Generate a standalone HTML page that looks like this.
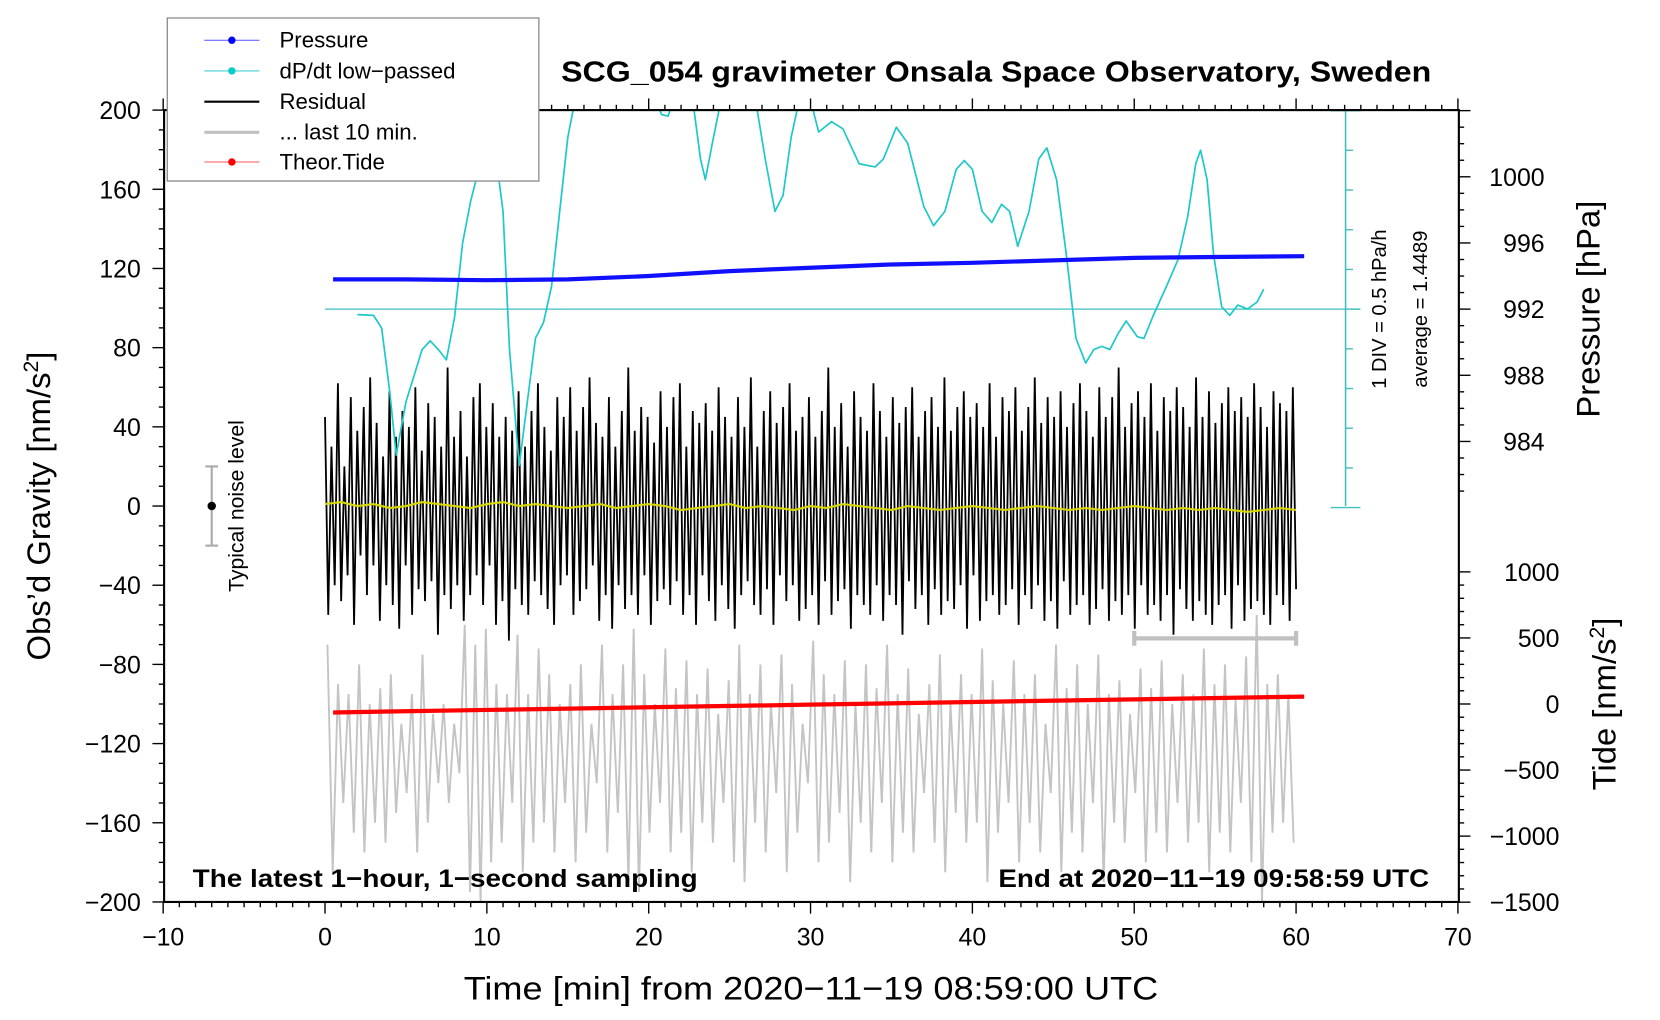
<!DOCTYPE html>
<html><head><meta charset="utf-8"><style>
html,body{margin:0;padding:0;background:#fff;}
svg{display:block;font-family:"Liberation Sans",sans-serif;}
</style></head><body>
<svg id="chart" width="1660" height="1020" viewBox="0 0 1568 963.5" preserveAspectRatio="none" xmlns="http://www.w3.org/2000/svg">
<defs><clipPath id="pc"><rect x="155" y="104" width="1223" height="748"/></clipPath></defs>
<rect x="0" y="0" width="1568" height="963.5" fill="#fff"/>
<g id="series" clip-path="url(#pc)"></g>
<g id="axes"></g>
</svg>
<script>
// ---- data ----
const cyanMin = [2,3,3.5,4,4.4,5,6,6.5,7,7.5,8,8.5,9,9.5,10,10.5,11,11.4,12,12.5,13,13.5,14,14.5,15,15.5,16,18,20,20.8,21.2,21.6,22.3,22.8,23.2,23.5,24,24.4,25.5,26.7,27.2,27.8,28.3,28.8,29.3,30,30.5,31.3,32,33,34,34.5,35.3,36,37,37.6,38.3,39,39.5,40,40.6,41.2,41.8,42.3,42.8,43.5,44.1,44.6,45.2,45.8,46.4,47,47.5,48,48.5,49,49.5,50.2,50.6,51.2,52,52.7,53.3,53.8,54.1,54.5,54.9,55.4,55.9,56.4,57,57.6,58];
const cyanVal = [1.38,1.37,1.21,0.41,-0.39,0.28,0.94,1.05,0.94,0.81,1.34,2.28,2.81,3.21,3.47,3.47,2.68,0.94,-0.52,0.28,1.08,1.28,1.74,2.68,3.61,4.14,4.54,4.81,4.28,3.90,3.88,4.14,4.28,3.96,3.34,3.08,3.61,4.01,4.54,3.96,3.34,2.68,2.88,3.61,4.08,4.08,3.68,3.81,3.72,3.28,3.24,3.34,3.74,3.54,2.74,2.50,2.68,3.21,3.32,3.21,2.68,2.54,2.77,2.68,2.24,2.68,3.34,3.48,3.08,2.14,1.08,0.77,0.94,0.98,0.94,1.14,1.30,1.10,1.08,1.38,1.74,2.07,2.61,3.28,3.45,3.08,2.14,1.48,1.37,1.50,1.45,1.54,1.70];
const cyanAverage = 1.4489;
const pressMin = [0.5,5,10,15,20,25,30,35,40,45,50,55,60.5];
const pressVal = [993.8,993.8,993.75,993.8,994.0,994.3,994.5,994.7,994.8,994.95,995.1,995.15,995.2];
const tideMin = [0.5,10,20,30,40,50,60.5];
const tideVal = [-64,-45,-25,-5,15,35,56];
const yellowVal = [1,2,0,1,-1,0,2,1,0,-1,1,2,0,1,0,-1,0,1,-1,0,1,0,-2,-1,0,1,-1,0,-1,-2,0,-1,1,0,-1,-2,0,-1,-2,-1,0,-1,-2,-1,0,-1,-2,-1,-2,-1,0,-1,-2,-1,-2,-1,-2,-3,-2,-1,-2];
const residual = [45,-55,30,-40,62,-48,20,-35,55,-60,38,-25,50,-45,65,-30,42,-58,25,-40,58,-50,35,-62,48,-30,40,-55,60,-42,28,-48,52,-38,45,-65,30,-45,70,-52,35,-40,48,-58,25,-45,55,-35,62,-50,40,-30,52,-60,35,-48,45,-68,38,-42,58,-50,30,-55,48,-38,62,-45,40,-52,28,-60,55,-40,45,-35,60,-55,38,-48,50,-42,65,-30,42,-58,35,-45,55,-62,30,-40,48,-52,70,-45,38,-55,50,-35,45,-60,32,-48,58,-42,40,-50,55,-38,62,-55,30,-45,48,-60,42,-35,52,-48,38,-58,60,-40,45,-52,35,-62,55,-45,40,-38,65,-50,30,-55,48,-42,58,-60,42,-35,50,-48,62,-40,38,-58,45,-52,55,-45,35,-60,48,-38,70,-55,40,-48,52,-42,30,-62,58,-45,45,-50,38,-55,62,-40,48,-58,35,-45,55,-50,42,-65,50,-38,60,-52,35,-45,48,-60,55,-42,40,-55,65,-48,38,-52,50,-40,58,-62,45,-35,52,-58,40,-48,62,-45,35,-55,55,-50,48,-42,60,-60,38,-45,50,-52,65,-40,42,-58,55,-48,45,-62,58,-38,40,-55,52,-50,62,-45,48,-60,35,-52,60,-42,45,-58,55,-48,70,-55,40,-45,52,-62,58,-40,45,-55,62,-50,38,-58,55,-45,48,-65,60,-42,50,-52,40,-58,65,-48,45,-55,58,-60,42,-50,52,-45,60,-62,48,-40,55,-58,45,-52,62,-48,50,-55,40,-60,58,-45,52,-50,48,-58,60,-42];
const greyVal = [-70,-185,-90,-150,-95,-165,-80,-175,-100,-160,-92,-170,-85,-155,-110,-145,-95,-175,-75,-160,-105,-140,-100,-150,-110,-135,-60,-195,-70,-200,-62,-180,-90,-170,-95,-150,-65,-185,-95,-170,-72,-160,-85,-175,-100,-150,-90,-180,-80,-165,-110,-140,-70,-175,-95,-155,-80,-190,-62,-195,-85,-165,-100,-150,-72,-175,-92,-165,-78,-185,-95,-160,-82,-170,-105,-150,-88,-180,-70,-190,-95,-160,-80,-175,-100,-145,-75,-185,-90,-165,-110,-140,-68,-180,-85,-170,-95,-155,-78,-190,-100,-160,-80,-175,-92,-150,-70,-180,-95,-165,-82,-175,-105,-145,-90,-170,-75,-185,-100,-155,-85,-170,-95,-160,-72,-190,-88,-165,-100,-150,-78,-180,-95,-160,-85,-175,-110,-145,-70,-185,-92,-165,-80,-175,-100,-150,-75,-190,-95,-160,-88,-170,-105,-145,-82,-180,-92,-165,-78,-175,-100,-150,-85,-170,-95,-160,-72,-185,-90,-165,-80,-175,-98,-150,-76,-180,-55,-200,-90,-165,-85,-160,-95,-170];
const xTicks = [-10,0,10,20,30,40,50,60,70];
const yTicks = [-200,-160,-120,-80,-40,0,40,80,120,160,200];
const pTicks = [984,988,992,996,1000];
const tTicks = [-1500,-1000,-500,0,500,1000];

// ---- scales ----
const X = m => 307 + m * 15.2875;
const Y = g => 478 - g * 1.87;
const P = h => 292 - (h - 992) * 15.625;
const T = t => 665 - t * 0.1248;
const D = v => 292 - (v - cyanAverage) / 0.5 * 37.5;

const NS = 'http://www.w3.org/2000/svg';
const series = document.getElementById('series');
const axes = document.getElementById('axes');
function mk(tag, attrs, parent, txt) {
  const e = document.createElementNS(NS, tag);
  for (const k in attrs) e.setAttribute(k, attrs[k]);
  if (txt !== undefined) e.textContent = txt;
  parent.appendChild(e);
  return e;
}
function pts(xs, ys) { return xs.map((x, i) => x.toFixed(2) + ',' + ys[i].toFixed(2)).join(' '); }

let e;
e = mk('line', {x1: 307, y1: 292, x2: 1285, y2: 292, stroke: '#3fbfbf', 'stroke-width': 1.2}, series);



const greyX = greyVal.map((v, i) => X(0.15 + i * 59.7 / (greyVal.length - 1)));
e = mk('polyline', {points: pts(greyX, greyVal.map(Y)), fill: 'none', stroke: '#c4c4c4', 'stroke-width': 1.8}, series);



const resX = residual.map((v, i) => X(i * 60 / (residual.length - 1)));
e = mk('polyline', {points: pts(resX, residual.map(Y)), fill: 'none', stroke: '#000', 'stroke-width': 1.7}, series);



const yelX = yellowVal.map((v, i) => X(i * 60 / (yellowVal.length - 1)));
e = mk('polyline', {points: pts(yelX, yellowVal.map(Y)), fill: 'none', stroke: '#d8d800', 'stroke-width': 2}, series);



e = mk('polyline', {points: pts(cyanMin.map(X), cyanVal.map(D)), fill: 'none', stroke: '#1ec8c8', 'stroke-width': 1.6, 'stroke-linejoin': 'round'}, series);



e = mk('polyline', {points: pts(pressMin.map(X), pressVal.map(P)), fill: 'none', stroke: '#1010ff', 'stroke-width': 4}, series);



e = mk('polyline', {points: pts(tideMin.map(X), tideVal.map(T)), fill: 'none', stroke: '#ff0000', 'stroke-width': 4}, series);



e = mk('line', {x1: 1271, y1: 104, x2: 1271, y2: 478, stroke: '#3fbfbf', 'stroke-width': 1.5}, axes);


for (let k = -5; k <= 5; k++) {
  const yy = 292 - k * 37.5;
  const w = (k === -5 || k === 5 || k === 0) ? 14 : 7;
  mk('line', {x1: (k === -5 || k === 5) ? 1257 : 1271, y1: yy, x2: 1271 + w, y2: yy, stroke: '#3fbfbf', 'stroke-width': 1.3}, axes);
}

e = mk('rect', {x: 155, y: 104, width: 1223, height: 748, fill: 'none', stroke: '#000', 'stroke-width': 2}, axes);



for (let m = -10; m <= 70; m++) {
  const major = m % 10 === 0;
  const xx = X(m);
  mk('line', {x1: xx, y1: 852, x2: xx, y2: 852 + (major ? 11 : 5), stroke: '#000', 'stroke-width': 1.3}, axes);
  mk('line', {x1: xx, y1: 104, x2: xx, y2: 104 - (major ? 11 : 5), stroke: '#000', 'stroke-width': 1.3}, axes);
}
xTicks.forEach(v => {
  e = mk('text', {x: X(v), y: 893, 'font-size': 23.5, 'text-anchor': 'middle'}, axes, v < 0 ? '\u2212' + (-v) : String(v));
  
  
});
for (let g = -200; g <= 200; g += 10) {
  const major = g % 40 === 0;
  mk('line', {x1: 155, y1: Y(g), x2: 155 - (major ? 11 : 5), y2: Y(g), stroke: '#000', 'stroke-width': 1.3}, axes);
}
yTicks.forEach(v => {
  e = mk('text', {x: 133, y: Y(v) + 8.5, 'font-size': 23.5, 'text-anchor': 'end'}, axes, v < 0 ? '\u2212' + (-v) : String(v));
  
  
});
for (let h = 980; h <= 1004; h++) {
  const yy = P(h);
  if (yy < 104 || yy > 478) continue;
  const major = h % 4 === 0;
  mk('line', {x1: 1378, y1: yy, x2: 1378 + (major ? 11 : 5), y2: yy, stroke: '#000', 'stroke-width': 1.3}, axes);
}
pTicks.forEach(v => {
  e = mk('text', {x: 1459, y: P(v) + 8.5, 'font-size': 23.5, 'text-anchor': 'end'}, axes, String(v));
  
  
});
for (let t = -1500; t <= 1000; t += 100) {
  const major = t % 500 === 0;
  mk('line', {x1: 1378, y1: T(t), x2: 1378 + (major ? 11 : 5), y2: T(t), stroke: '#000', 'stroke-width': 1.3}, axes);
}
tTicks.forEach(v => {
  e = mk('text', {x: 1473, y: T(v) + 8.5, 'font-size': 23.5, 'text-anchor': 'end'}, axes, v < 0 ? '\u2212' + (-v) : String(v));
  
  
});

mk('line', {x1: X(-7), y1: Y(20), x2: X(-7), y2: Y(-20), stroke: '#aaa', 'stroke-width': 2}, axes);
mk('line', {x1: X(-7) - 6, y1: Y(20), x2: X(-7) + 6, y2: Y(20), stroke: '#aaa', 'stroke-width': 2}, axes);
mk('line', {x1: X(-7) - 6, y1: Y(-20), x2: X(-7) + 6, y2: Y(-20), stroke: '#aaa', 'stroke-width': 2}, axes);
e = mk('circle', {cx: X(-7), cy: Y(0), r: 4, fill: '#000'}, axes);


mk('line', {x1: X(50), y1: 603, x2: X(60), y2: 603, stroke: '#c0c0c0', 'stroke-width': 4}, axes);
mk('line', {x1: X(50), y1: 596, x2: X(50), y2: 610, stroke: '#c0c0c0', 'stroke-width': 4}, axes);
mk('line', {x1: X(60), y1: 596, x2: X(60), y2: 610, stroke: '#c0c0c0', 'stroke-width': 4}, axes);
</script>
<svg style="position:absolute;left:0;top:0" width="1660" height="1020" viewBox="0 0 1568 963.5" preserveAspectRatio="none" xmlns="http://www.w3.org/2000/svg" font-family="Liberation Sans, sans-serif">
  <text x="530" y="77" font-size="27" font-weight="bold" textLength="822" lengthAdjust="spacingAndGlyphs">SCG_054 gravimeter Onsala Space Observatory, Sweden</text>
  <text x="182" y="838" font-size="24" font-weight="bold" textLength="477" lengthAdjust="spacingAndGlyphs">The latest 1−hour, 1−second sampling</text>
  <text x="1350" y="838" font-size="24" font-weight="bold" text-anchor="end" textLength="407" lengthAdjust="spacingAndGlyphs">End at 2020−11−19 09:58:59 UTC</text>
  <text x="766" y="944" font-size="31" text-anchor="middle" textLength="656" lengthAdjust="spacingAndGlyphs">Time [min] from 2020−11−19 08:59:00 UTC</text>
  <text transform="translate(47,478) rotate(-90)" font-size="31" text-anchor="middle">Obs’d Gravity [nm/s<tspan font-size="20" dy="-11">2</tspan><tspan dy="11">]</tspan></text>
  <text transform="translate(1511,292) rotate(-90)" font-size="31" text-anchor="middle">Pressure [hPa]</text>
  <text transform="translate(1526,665) rotate(-90)" font-size="31" text-anchor="middle">Tide [nm/s<tspan font-size="20" dy="-11">2</tspan><tspan dy="11">]</tspan></text>
  <text transform="translate(230,478) rotate(-90)" font-size="20" text-anchor="middle">Typical noise level</text>
  <text transform="translate(1309,292) rotate(-90)" font-size="19" text-anchor="middle">1 DIV = 0.5 hPa/h</text>
  <text transform="translate(1348,292) rotate(-90)" font-size="19" text-anchor="middle">average = 1.4489</text>
  <g>
    <rect x="158" y="17" width="351" height="154" fill="#fff" stroke="#888" stroke-width="1.2"/>
    <line x1="193" y1="38" x2="245" y2="38" stroke="#5555ff" stroke-width="1"/><circle cx="219" cy="38" r="3.5" fill="#0000ff"/>
    <text x="264" y="45" font-size="21">Pressure</text>
    <line x1="193" y1="67" x2="245" y2="67" stroke="#44d0d0" stroke-width="1"/><circle cx="219" cy="67" r="3.5" fill="#00cccc"/>
    <text x="264" y="74" font-size="21">dP/dt low−passed</text>
    <line x1="193" y1="96" x2="245" y2="96" stroke="#000" stroke-width="2"/>
    <text x="264" y="103" font-size="21">Residual</text>
    <line x1="193" y1="125" x2="245" y2="125" stroke="#c0c0c0" stroke-width="3"/>
    <text x="264" y="132" font-size="21">... last 10 min.</text>
    <line x1="193" y1="153" x2="245" y2="153" stroke="#ff5555" stroke-width="1"/><circle cx="219" cy="153" r="3.5" fill="#ff0000"/>
    <text x="264" y="160" font-size="21">Theor.Tide</text>
  </g>
</svg>
</body></html>
